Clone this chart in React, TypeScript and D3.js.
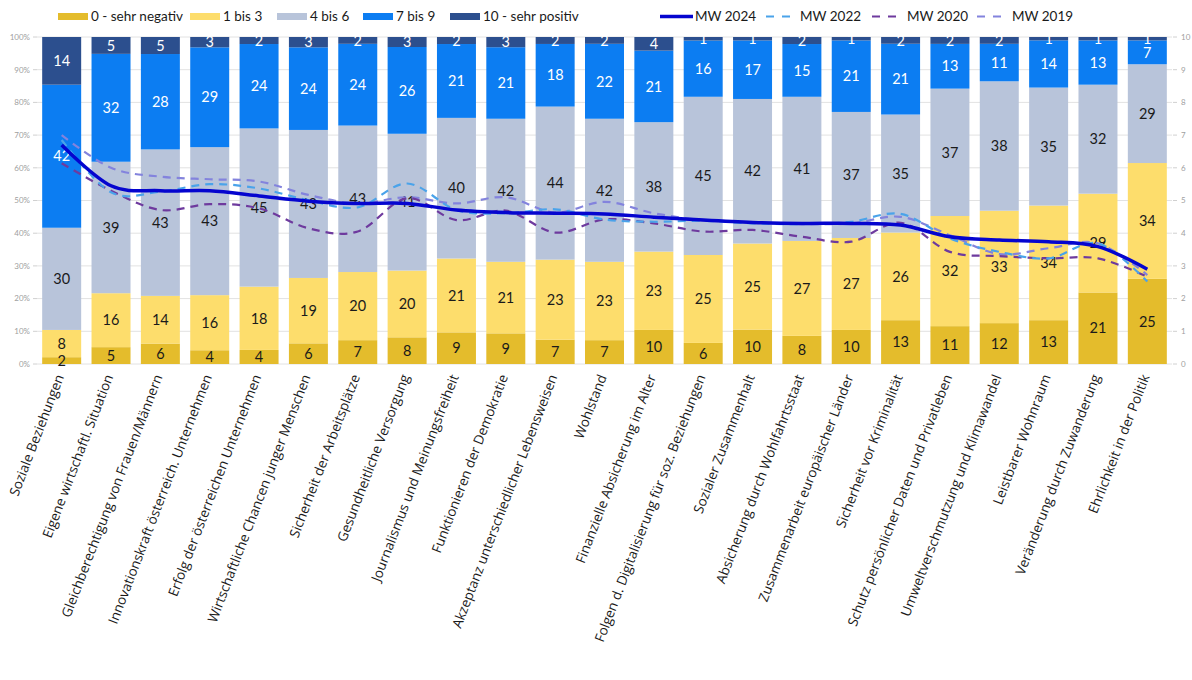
import React from "react";
import * as d3 from "d3";

const categories = [
  "Soziale Beziehungen",
  "Eigene wirtschaftl. Situation",
  "Gleichberechtigung von Frauen/Männern",
  "Innovationskraft österreich. Unternehmen",
  "Erfolg der österreichen Unternehmen",
  "Wirtschaftliche Chancen junger Menschen",
  "Sicherheit der Arbeitsplätze",
  "Gesundheitliche Versorgung",
  "Journalismus und Meinungsfreiheit",
  "Funktionieren der Demokratie",
  "Akzeptanz unterschiedlicher Lebensweisen",
  "Wohlstand",
  "Finanzielle Absicherung im Alter",
  "Folgen d. Digitalisierung für soz. Beziehungen",
  "Sozialer Zusammenhalt",
  "Absicherung durch Wohlfahrtsstaat",
  "Zusammenarbeit europäischer Länder",
  "Sicherheit vor Kriminalität",
  "Schutz persönlicher Daten und Privatleben",
  "Umweltverschmutzung und Klimawandel",
  "Leistbarer Wohnraum",
  "Veränderung durch Zuwanderung",
  "Ehrlichkeit in der Politik",
];

const sehrNegativ = [2, 5, 6, 4, 4, 6, 7, 8, 9, 9, 7, 7, 10, 6, 10, 8, 10, 13, 11, 12, 13, 21, 25];
const bis3 = [8, 16, 14, 16, 18, 19, 20, 20, 21, 21, 23, 23, 23, 25, 25, 27, 27, 26, 32, 33, 34, 29, 34];
const bis6 = [30, 39, 43, 43, 45, 43, 43, 41, 40, 42, 44, 42, 38, 45, 42, 41, 37, 35, 37, 38, 35, 32, 29];
const bis9 = [42, 32, 28, 29, 24, 24, 24, 26, 21, 21, 18, 22, 21, 16, 17, 15, 21, 21, 13, 11, 14, 13, 7];
const sehrPositiv = [14, 5, 5, 3, 2, 3, 2, 3, 2, 3, 2, 2, 4, 1, 1, 2, 1, 2, 2, 2, 1, 1, 1];

const mw2024 = [6.7, 5.45, 5.3, 5.3, 5.14, 4.98, 4.91, 4.91, 4.71, 4.63, 4.61, 4.59, 4.49, 4.4, 4.33, 4.3, 4.3, 4.25, 3.89, 3.79, 3.74, 3.59, 2.9];
const mw2022 = [6.85, 5.25, 5.27, 5.5, 5.37, 5.01, 4.79, 5.52, 4.71, 4.61, 4.73, 4.42, 4.35, 4.38, 4.3, 4.28, 4.35, 4.59, 3.84, 3.43, 3.23, 3.69, 2.52];
const mw2020 = [6.14, 5.3, 4.71, 4.89, 4.76, 4.15, 4.05, 5.07, 4.4, 4.69, 4.02, 4.42, 4.3, 4.05, 4.1, 3.89, 3.74, 4.32, 3.43, 3.3, 3.23, 3.23, 2.67];
const mw2019 = [7.0, 6.0, 5.73, 5.65, 5.58, 5.17, 4.91, 5.1, 4.91, 5.1, 4.63, 4.96, 4.61, 4.4, 4.33, 4.28, 4.3, 4.5, 3.94, 3.36, 3.54, 3.69, 2.72];

const leftTicks = [0, 0.1, 0.2, 0.3, 0.4, 0.5, 0.6, 0.7, 0.8, 0.9, 1];
const rightTicks = [0, 1, 2, 3, 4, 5, 6, 7, 8, 9, 10];

const segKeys = ["0 - sehr negativ", "1 bis 3", "4 bis 6", "7 bis 9", "10 - sehr positiv"];
const segValues = [sehrNegativ, bis3, bis6, bis9, sehrPositiv];
const segColors = ["#E4BC2C", "#FDDD6C", "#B8C4DA", "#0C7DF2", "#2C4F8E"];
const segTextColors = ["#1a1a1a", "#1a1a1a", "#1a1a1a", "#ffffff", "#ffffff"];

const lineSeries = [
  { name: "MW 2024", values: mw2024, color: "#0505CF", width: 3.5, dash: "" },
  { name: "MW 2022", values: mw2022, color: "#4AA3EA", width: 2.2, dash: "8 6" },
  { name: "MW 2020", values: mw2020, color: "#6E3A9E", width: 2.2, dash: "8 6" },
  { name: "MW 2019", values: mw2019, color: "#8383DD", width: 2.2, dash: "8 6" },
];

const W = 1192;
const H = 680;
const plotLeft = 37;
const plotRight = 1172;
const plotTop = 37;
const plotBottom = 364;

export default function App() {
  const table = categories.map((c, i) => {
    const row: any = { cat: c };
    segKeys.forEach((k, j) => (row[k] = segValues[j][i]));
    return row;
  });
  const stack = d3.stack<any>().keys(segKeys).offset(d3.stackOffsetExpand);
  const series = stack(table);

  const x = d3
    .scaleBand<string>()
    .domain(categories)
    .range([plotLeft, plotRight])
    .paddingInner(0.21)
    .paddingOuter(0.105);
  const y = d3.scaleLinear().domain([0, 1]).range([plotBottom, plotTop]);
  const y2 = d3.scaleLinear().domain([0, 10]).range([plotBottom, plotTop]);

  const line = d3
    .line<number>()
    .x((_, i) => (x(categories[i]) as number) + x.bandwidth() / 2)
    .y((v) => y2(v))
    .curve(d3.curveCatmullRom.alpha(0));

  const legendItems = [
    { label: segKeys[0], color: segColors[0], x: 58 },
    { label: segKeys[1], color: segColors[1], x: 190 },
    { label: segKeys[2], color: segColors[2], x: 277 },
    { label: segKeys[3], color: segColors[3], x: 363 },
    { label: segKeys[4], color: segColors[4], x: 450 },
  ];
  const legendLines = [
    { s: lineSeries[0], x: 660, w: 33, tx: 695 },
    { s: lineSeries[1], x: 766, w: 26, tx: 800 },
    { s: lineSeries[2], x: 872, w: 26, tx: 907 },
    { s: lineSeries[3], x: 977, w: 26, tx: 1012 },
  ];

  return (
    <div style={{ position: "absolute", left: 0, top: 0, width: W, height: H, background: "#fff" }}>
      <svg width={W} height={H} style={{ display: "block" }}>
        <rect x={0} y={0} width={W} height={H} fill="#fff" />
        {leftTicks.map((t) => (
          <line key={"g" + t} x1={plotLeft} x2={plotRight} y1={y(t)} y2={y(t)} stroke="#E2E2E2" strokeWidth={1} />
        ))}
        {leftTicks.map((t) => (
          <g key={"l" + t}>
            <line x1={plotLeft - 4} x2={plotLeft} y1={y(t)} y2={y(t)} stroke="#D0D0D0" />
            <text x={plotLeft - 7} y={y(t)} dy="0.35em" textAnchor="end" fontFamily="Lato" fontSize={8} fill="#A0A0A0">
              {d3.format(".0%")(t)}
            </text>
          </g>
        ))}
        {rightTicks.map((t) => (
          <g key={"r" + t}>
            <line x1={plotRight + 1} x2={plotRight + 5} y1={y2(t)} y2={y2(t)} stroke="#D0D0D0" />
            <text x={plotRight + 9} y={y2(t)} dy="0.35em" textAnchor="start" fontFamily="Lato" fontSize={8} fill="#A0A0A0">
              {t}
            </text>
          </g>
        ))}
        {series.map((s, j) => (
          <g key={s.key}>
            {s.map((d, i) => (
              <rect
                key={i}
                x={x(categories[i])}
                width={x.bandwidth()}
                y={y(d[1])}
                height={y(d[0]) - y(d[1])}
                fill={segColors[j]}
              />
            ))}
          </g>
        ))}
        {series.map((s, j) => (
          <g key={"t" + s.key}>
            {s.map((d, i) => (
              <text
                key={i}
                x={(x(categories[i]) as number) + x.bandwidth() / 2}
                y={(y(d[0]) + y(d[1])) / 2}
                dy="0.36em"
                textAnchor="middle"
                fontFamily="Lato"
                fontSize={14.5}
                fill={segTextColors[j]}
              >
                {segValues[j][i]}
              </text>
            ))}
          </g>
        ))}
        {lineSeries
          .slice()
          .reverse()
          .map((s) => (
            <path
              key={s.name}
              d={line(s.values) as string}
              fill="none"
              stroke={s.color}
              strokeWidth={s.width}
              strokeDasharray={s.dash || undefined}
              strokeLinecap="butt"
              strokeLinejoin="round"
            />
          ))}
        {categories.map((c) => {
          const cx = (x(c) as number) + x.bandwidth() / 2;
          const ty = plotBottom + 11;
          return (
            <text
              key={c}
              transform={`translate(${cx - 2},${ty}) rotate(-69)`}
              textAnchor="end"
              dy="0.35em"
              fontFamily="Open Sans"
              fontSize={13.5}
              fill="#1a1a1a"
            >
              {c}
            </text>
          );
        })}
        {legendItems.map((l) => (
          <g key={l.label}>
            <rect x={l.x} y={13} width={30} height={7} fill={l.color} />
            <text x={l.x + 33} y={16.5} dy="0.35em" fontFamily="Lato" fontSize={13.5} fill="#1a1a1a">
              {l.label}
            </text>
          </g>
        ))}
        {legendLines.map((l) => (
          <g key={l.s.name}>
            <line
              x1={l.x}
              x2={l.x + l.w}
              y1={16.5}
              y2={16.5}
              stroke={l.s.color}
              strokeWidth={l.s.width}
              strokeDasharray={l.s.dash ? "8 8" : undefined}
            />
            <text x={l.tx} y={16.5} dy="0.35em" fontFamily="Lato" fontSize={13.5} fill="#1a1a1a">
              {l.s.name}
            </text>
          </g>
        ))}
      </svg>
    </div>
  );
}
